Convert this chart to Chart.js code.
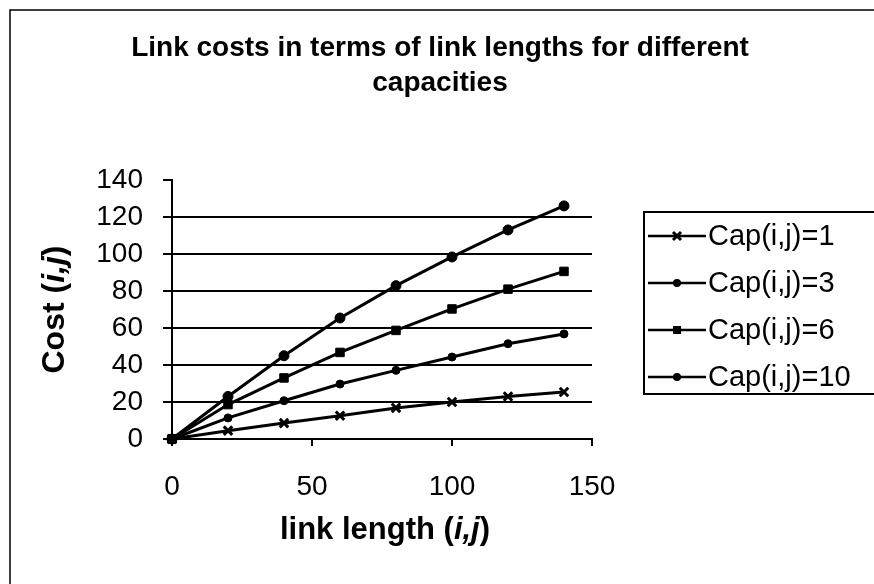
<!DOCTYPE html>
<html>
<head>
<meta charset="utf-8">
<script src="https://cdn.jsdelivr.net/npm/chart.js"></script>
<style>
  body { margin: 0; background: #fff; }
  #wrap { width: 874px; height: 584px; }
</style>
</head>
<body>
<div id="wrap"><canvas id="chart_costos" width="874" height="584"></canvas></div>
<script>
// datos
var longitudes = [0, 20, 40, 60, 80, 100, 120, 140];
var cap1 = [0, 4.5, 8.6, 12.6, 16.8, 20, 23, 25.4];
var cap3 = [0, 11.4, 20.7, 29.7, 37.1, 44.3, 51.5, 56.8];
var cap6 = [0, 18.6, 33, 46.8, 58.7, 70.3, 81, 90.6];
var cap10 = [0, 23, 45, 65.4, 82.9, 98.4, 113, 126];
var etiquetas = ['Cap(i,j)=1', 'Cap(i,j)=3', 'Cap(i,j)=6', 'Cap(i,j)=10'];
var ticksX = [0, 50, 100, 150];
var ticksY = [0, 20, 40, 60, 80, 100, 120, 140];
var titulo = ['Link costs in terms of link lengths for different', 'capacities'];

var fuente = '"Liberation Sans", Arial, sans-serif';

function puntos(valores) {
    return longitudes.map(function (x, i) { return { x: x, y: valores[i] }; });
}

function serie(label, valores, estilo, radio) {
    return {
        label: label,
        data: puntos(valores),
        borderColor: '#000',
        backgroundColor: '#000',
        borderWidth: 3,
        pointStyle: estilo,
        pointRadius: radio,
        pointBorderWidth: estilo === 'crossRot' ? 3 : 1,
        tension: 0,
        clip: false
    };
}

// dibuja texto con partes en cursiva, centrado en (0,0)
function textoMixto(ctx, partes, size) {
    var total = 0;
    partes.forEach(function (p) {
        ctx.font = (p[1] ? 'italic ' : '') + 'bold ' + size + 'px ' + fuente;
        total += ctx.measureText(p[0]).width;
    });
    var x = -total / 2;
    partes.forEach(function (p) {
        ctx.font = (p[1] ? 'italic ' : '') + 'bold ' + size + 'px ' + fuente;
        ctx.fillText(p[0], x, 0);
        x += ctx.measureText(p[0]).width;
    });
}

function marcador(ctx, estilo, x, y, r) {
    ctx.beginPath();
    if (estilo === 'circle') {
        ctx.arc(x, y, r, 0, Math.PI * 2);
        ctx.fill();
    } else if (estilo === 'rect') {
        ctx.fillRect(x - r, y - r, r * 2, r * 2);
    } else {
        ctx.lineWidth = 3;
        ctx.moveTo(x - r, y - r); ctx.lineTo(x + r, y + r);
        ctx.moveTo(x + r, y - r); ctx.lineTo(x - r, y + r);
        ctx.stroke();
    }
}

var extras = {
    id: 'extras',
    afterDraw: function (chart) {
        var ctx = chart.ctx;
        var area = chart.chartArea;
        ctx.save();
        ctx.fillStyle = '#000';
        ctx.strokeStyle = '#000';
        ctx.textBaseline = 'middle';

        // borde exterior
        ctx.lineWidth = 1.5;
        ctx.beginPath();
        ctx.moveTo(10, 590); ctx.lineTo(10, 10); ctx.lineTo(880, 10);
        ctx.stroke();

        // titulo
        ctx.textAlign = 'center';
        ctx.font = 'bold 28px ' + fuente;
        ctx.fillText(titulo[0], 440, 48);
        ctx.fillText(titulo[1], 440, 83);
        ctx.textAlign = 'left';

        // titulos de ejes
        ctx.save();
        ctx.translate((area.left + area.right) / 2 + 3, 530);
        textoMixto(ctx, [['link length (', false], ['i,j', true], [')', false]], 31);
        ctx.restore();

        ctx.save();
        ctx.translate(55, (area.top + area.bottom) / 2);
        ctx.rotate(-Math.PI / 2);
        textoMixto(ctx, [['Cost (', false], ['i,j', true], [')', false]], 32);
        ctx.restore();

        // leyenda
        ctx.lineWidth = 2;
        ctx.strokeRect(644, 212, 260, 182);
        chart.data.datasets.forEach(function (ds, i) {
            var y = 236 + i * 47;
            ctx.lineWidth = 2.5;
            ctx.beginPath();
            ctx.moveTo(648, y); ctx.lineTo(706, y);
            ctx.stroke();
            marcador(ctx, ds.pointStyle, 677, y, 4);
            ctx.font = '29px ' + fuente;
            ctx.fillText(ds.label, 708, y + 1);
        });
        ctx.restore();
    }
};

var config_costos = {
    type: 'line',
    data: {
        datasets: [
            serie(etiquetas[0], cap1, 'crossRot', 6),
            serie(etiquetas[1], cap3, 'circle', 4),
            serie(etiquetas[2], cap6, 'rect', 6),
            serie(etiquetas[3], cap10, 'circle', 5)
        ]
    },
    options: {
        responsive: false,
        animation: false,
        devicePixelRatio: 1,
        layout: { padding: { left: 0, right: 282, top: 180, bottom: 0 } },
        plugins: {
            legend: { display: false },
            tooltip: { enabled: false },
            title: { display: false }
        },
        scales: {
            x: {
                type: 'linear',
                min: 0,
                max: 150,
                afterBuildTicks: function (scale) {
                    scale.ticks = ticksX.map(function (v) { return { value: v }; });
                },
                afterFit: function (scale) { scale.height = 145; },
                grid: { drawOnChartArea: false, tickLength: 7, tickColor: '#000', lineWidth: 2 },
                border: { color: '#000', width: 2 },
                ticks: { color: '#000', padding: 24, maxRotation: 0, font: { family: fuente, size: 28 } }
            },
            y: {
                min: 0,
                max: 140,
                afterBuildTicks: function (scale) {
                    scale.ticks = ticksY.map(function (v) { return { value: v }; });
                },
                afterFit: function (scale) { scale.width = 172; },
                grid: {
                    color: function (c) { return c.tick && c.tick.value === 140 ? 'rgba(0,0,0,0)' : '#000'; },
                    tickColor: '#000',
                    tickLength: 9,
                    lineWidth: 2
                },
                border: { color: '#000', width: 2 },
                ticks: { color: '#000', padding: 20, font: { family: fuente, size: 28 } }
            }
        }
    },
    plugins: [extras]
};

var canvas_costos = document.getElementById('chart_costos');
var chart_costos = new Chart(canvas_costos, config_costos);
</script>
</body>
</html>
